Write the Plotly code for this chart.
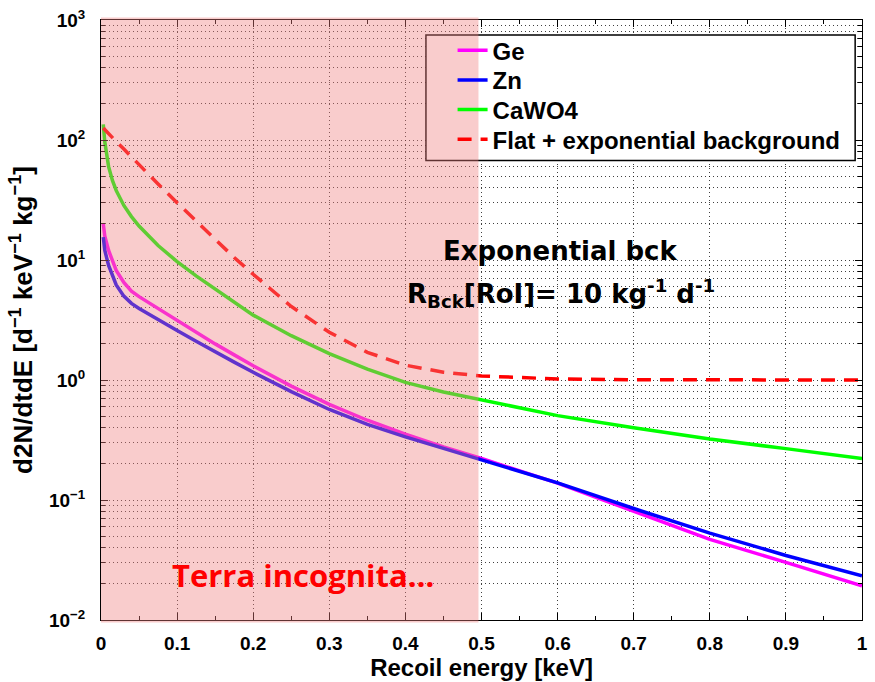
import plotly.graph_objects as go

# ---------------- data ----------------
energy_keV = [0.003, 0.005, 0.01, 0.015, 0.02, 0.03, 0.04, 0.05, 0.075, 0.1,
              0.125, 0.15, 0.175, 0.2, 0.25, 0.3, 0.35, 0.4, 0.45, 0.5,
              0.6, 0.7, 0.8, 0.9, 1.0]

rate_Ge = [20.0, 15.8, 12.0, 9.7, 8.2, 6.5, 5.5, 4.95, 3.93, 3.13,
           2.49, 2.00, 1.62, 1.315, 0.889, 0.627, 0.462, 0.354, 0.277, 0.222,
           0.138, 0.081, 0.047, 0.0302, 0.0193]

rate_Zn = [15.5, 12.0, 9.0, 7.3, 6.2, 5.0, 4.35, 3.95, 3.17, 2.58,
           2.10, 1.71, 1.41, 1.16, 0.80, 0.568, 0.427, 0.336, 0.269, 0.218,
           0.139, 0.085, 0.053, 0.0345, 0.0234]

rate_CaWO4 = [135, 96, 60, 46, 38, 28.5, 23, 19.2, 13.2, 9.7,
              7.38, 5.71, 4.44, 3.47, 2.34, 1.66, 1.23, 0.955, 0.794, 0.679,
              0.505, 0.40, 0.322, 0.268, 0.222]

rate_bkg = [126, 122, 112, 104, 97, 84, 72, 62, 43, 30,
            21, 14.9, 10.5, 7.6, 4.1, 2.5, 1.7, 1.33, 1.16, 1.08,
            1.02, 1.005, 1.0, 1.0, 1.0]

series_names = ["Ge", "Zn", "CaWO4", "Flat + exponential background"]
x_ticks = [0, 0.1, 0.2, 0.3, 0.4, 0.5, 0.6, 0.7, 0.8, 0.9, 1]
y_tickvals = [1e-2, 1e-1, 1e0, 1e1, 1e2, 1e3]
y_ticktext = ["10<sup>\u22122</sup>", "10<sup>\u22121</sup>", "10<sup>0</sup>",
              "10<sup>1</sup>", "10<sup>2</sup>", "10<sup>3</sup>"]
y_minor = [m * 10.0 ** e for e in range(-2, 3) for m in range(2, 10)]
terra_limit = 0.496  # end of the "terra incognita" region [keV]

# ---------------- figure ----------------
AX_FONT = "Liberation Sans, Arial, Helvetica, sans-serif"
TXT_FONT = "DejaVu Sans, sans-serif"

fig = go.Figure()
colors = ["#FF00FF", "#0000FF", "#00FF00", "#FF0000"]
legend_ids = ["legend", "legend2", "legend3", "legend4"]
for name, ys, c, lg in zip(series_names, [rate_Ge, rate_Zn, rate_CaWO4, rate_bkg],
                           colors, legend_ids):
    fig.add_trace(go.Scatter(
        x=energy_keV, y=ys, mode="lines", name=name, legend=lg,
        line=dict(color=c, width=3.5,
                  dash="14px,9px" if name.startswith("Flat") else "solid"),
    ))

grid_col = "rgba(0,0,0,0.75)"
fig.update_xaxes(
    range=[0, 1], tickmode="array", tickvals=x_ticks,
    ticks="inside", ticklen=7, tickwidth=1, tickcolor="black",
    showline=True, linecolor="black", linewidth=1, mirror="allticks",
    showgrid=True, gridcolor=grid_col, griddash="1px,3px", gridwidth=1,
    zeroline=False,
    minor=dict(dtick=0.05, tick0=0, ticks="inside", ticklen=4, tickcolor="black",
               showgrid=False),
    tickfont=dict(family=AX_FONT, size=19, color="black", weight="bold"),
    ticklabelstandoff=6,
    title=dict(text="Recoil energy [keV]", standoff=4,
               font=dict(family=AX_FONT, size=24, color="black", weight="bold")),
)
fig.update_yaxes(
    type="log", range=[-2, 3], tickmode="array", tickvals=y_tickvals, ticktext=y_ticktext,
    ticks="inside", ticklen=7, tickwidth=1, tickcolor="black",
    showline=True, linecolor="black", linewidth=1, mirror="allticks",
    showgrid=True, gridcolor=grid_col, griddash="1px,3px", gridwidth=1,
    zeroline=False,
    minor=dict(tickmode="array", tickvals=y_minor, ticks="inside", ticklen=4,
               tickcolor="black", showgrid=True, gridcolor=grid_col,
               griddash="1px,3px", gridwidth=1),
    tickfont=dict(family=AX_FONT, size=19, color="black", weight="bold"),
    ticklabelstandoff=11,
    title=dict(text="d2N/dtdE [d<sup>\u22121</sup> keV<sup>\u22121</sup> kg<sup>\u22121</sup>]",
               standoff=8,
               font=dict(family=AX_FONT, size=26, color="black", weight="bold")),
)

# legend box (white, bordered) then translucent pink region over everything
fig.add_shape(type="rect", xref="paper", yref="paper",
              x0=0.427, x1=0.991, y0=0.7657, y1=0.975,
              fillcolor="white", line=dict(color="black", width=1.5), layer="above")
fig.add_shape(type="rect", xref="x", yref="paper",
              x0=-0.008, x1=terra_limit, y0=-0.004, y1=1.004,
              fillcolor="rgba(240,128,128,0.4)", line=dict(width=0), layer="above")

fig.add_annotation(text="<b>Exponential bck</b>", xref="x", yref="paper",
                   x=0.604, y=0.6155, showarrow=False,
                   font=dict(family=TXT_FONT, size=26, color="black"))
fig.add_annotation(text="<b>R<sub>Bck</sub>[RoI]= 10 kg<sup>-1</sup> d<sup>-1</sup></b>",
                   xref="x", yref="paper", x=0.604, y=0.5446, showarrow=False,
                   font=dict(family=TXT_FONT, size=26, color="black"))
fig.add_annotation(text="<b>Terra incognita\u2026</b>", xref="x", yref="paper",
                   x=0.265, y=0.036, showarrow=False,
                   font=dict(family="Open Sans, sans-serif", size=31, color="#FF0000"))

legend_common = dict(x=0.462, xanchor="left", yanchor="middle",
                     bgcolor="rgba(0,0,0,0)", borderwidth=0,
                     font=dict(family=AX_FONT, size=24, color="black", weight="bold"))
fig.update_layout(
    width=875, height=682,
    margin=dict(l=101, r=7, t=17, b=59),
    paper_bgcolor="white", plot_bgcolor="white",
    showlegend=True,
    legend=dict(y=0.9490, **legend_common),
    legend2=dict(y=0.8995, **legend_common),
    legend3=dict(y=0.8500, **legend_common),
    legend4=dict(y=0.8005, **legend_common),
)

fig.write_html("out.html")
